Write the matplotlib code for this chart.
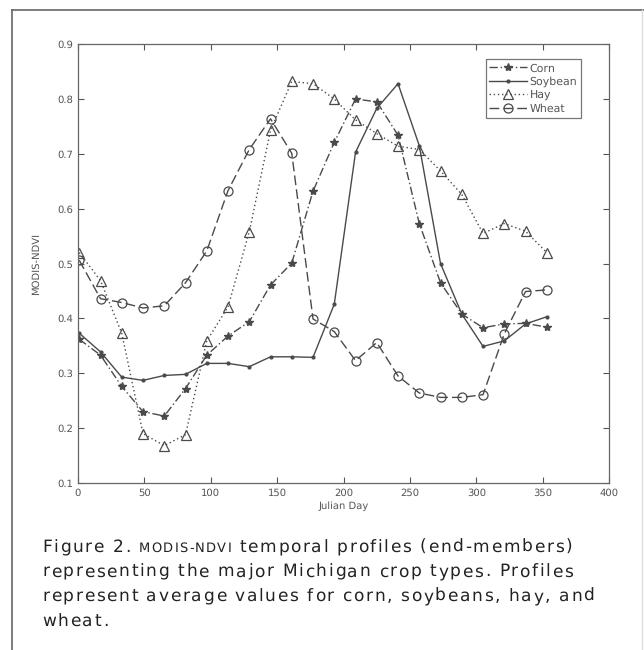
import matplotlib
matplotlib.use("Agg")
from matplotlib import pyplot as plt
from matplotlib.lines import Line2D
from matplotlib import font_manager
from matplotlib.font_manager import FontProperties
from matplotlib.ft2font import FT2Font, LoadFlags
import numpy as np

plt.rcParams["text.hinting"] = "no_hinting"
plt.rcParams["text.hinting_factor"] = 1

# 16-day MODIS composites
days = [1, 17, 33, 49, 65, 81, 97, 113, 129, 145, 161, 177,
        193, 209, 225, 241, 257, 273, 289, 305, 321, 337, 353]

corn = [0.362, 0.333, 0.276, 0.230, 0.222, 0.272, 0.333, 0.368, 0.394, 0.461, 0.501, 0.632,
        0.721, 0.800, 0.795, 0.734, 0.573, 0.465, 0.408, 0.383, 0.390, 0.391, 0.384]
soybean = [0.373, 0.339, 0.293, 0.287, 0.296, 0.298, 0.318, 0.318, 0.312, 0.330, 0.330, 0.329,
           0.426, 0.703, 0.783, 0.828, 0.715, 0.500, 0.408, 0.349, 0.359, 0.390, 0.403]
hay = [0.520, 0.469, 0.373, 0.190, 0.168, 0.188, 0.359, 0.421, 0.558, 0.743, 0.832, 0.828,
       0.800, 0.762, 0.737, 0.714, 0.708, 0.669, 0.626, 0.555, 0.573, 0.559, 0.520]
wheat = [0.506, 0.436, 0.429, 0.419, 0.423, 0.465, 0.523, 0.633, 0.708, 0.764, 0.701, 0.399,
         0.376, 0.323, 0.356, 0.295, 0.264, 0.256, 0.256, 0.261, 0.372, 0.449, 0.452]

xticks = [0, 50, 100, 150, 200, 250, 300, 350, 400]
yticks = [0.1, 0.2, 0.3, 0.4, 0.5, 0.6, 0.7, 0.8, 0.9]

W, H = 644, 650
lc = "#4a4a4a"
fig = plt.figure(figsize=(W / 100, H / 100), dpi=100)
fig.patch.set_facecolor("white")

ax = fig.add_axes([0.121, 0.257, 0.825, 0.675])

ax.plot(days, corn, linestyle=(0, (6, 2, 1, 2)), color=lc, lw=1.0,
        marker="*", ms=6, mfc=lc, mec=lc, label="Corn")
ax.plot(days, soybean, linestyle="-", color=lc, lw=1.0,
        marker=".", ms=4, mfc=lc, mec=lc, label="Soybean")
ax.plot(days, hay, linestyle=(0, (1, 2)), color=lc, lw=1.0,
        marker="^", ms=7, mfc="none", mec=lc, mew=0.9, label="Hay")
ax.plot(days, wheat, linestyle=(0, (7, 3)), color=lc, lw=1.0,
        marker="o", ms=6.5, mfc="none", mec=lc, mew=0.9, label="Wheat")

ax.set_xlim(0, 400)
ax.set_ylim(0.1, 0.9)
ax.set_xticks(xticks)
ax.set_yticks(yticks)
ax.set_xticklabels([str(t) for t in xticks])
ax.set_yticklabels(["%.1f" % t for t in yticks])
ax.tick_params(direction="in", top=True, right=True, length=4, width=0.8,
               colors="#555555", labelsize=7, labelcolor="#555555")
for s in ax.spines.values():
    s.set_color("#666666")
    s.set_linewidth(0.9)

ax.set_xlabel("Julian Day", fontsize=7, color="#555555", labelpad=3)
ax.set_ylabel("MODIS-NDVI", fontsize=7, color="#555555", labelpad=12)

leg = ax.legend(loc="upper right", bbox_to_anchor=(0.947, 0.966), fontsize=8,
                frameon=True, fancybox=False, handlelength=3.4, handletextpad=0.2,
                borderpad=0.35, labelspacing=0.25, borderaxespad=0)
leg.get_frame().set_edgecolor("#555555")
leg.get_frame().set_linewidth(0.9)
for t in leg.get_texts():
    t.set_color("#555555")

# outer frame of the figure panel
fig.add_artist(Line2D([12 / W, 12 / W], [0, 1 - 10 / H], color="#666666", lw=1.2))
fig.add_artist(Line2D([12 / W, 1], [1 - 10 / H, 1 - 10 / H], color="#666666", lw=1.2))
fig.add_artist(Line2D([642 / W, 642 / W], [0, 1 - 10 / H], color="#dddddd", lw=1.0))

# caption: wide, letter-spaced type, "MODIS-NDVI" in small caps
cap_color = "#222222"
font_path = font_manager.findfont(FontProperties(family="DejaVu Sans"))
ft = FT2Font(font_path)


def advance(ch, size):
    ft.set_size(size, 100)
    g = ft.load_char(ord(ch), flags=LoadFlags.NO_HINTING)
    return g.linearHoriAdvance / 65536.0


def tracked(x, y, s, size, track):
    for ch in s:
        if ch != " ":
            fig.text(x / W, 1 - y / H, ch, fontsize=size, family="DejaVu Sans",
                     color=cap_color, va="baseline")
        x += advance(ch, size) + track
    return x


size = 12.5
line2 = "representing the major Michigan crop types. Profiles"
nat = sum(advance(c, size) for c in line2)
track = (531 - nat) / (len(line2) - 1)

x = tracked(42, 552, "Figure 2. ", size, track)
x = tracked(x, 552, "MODIS-NDVI", 9.6, track * 0.7)
tracked(x, 552, " temporal profiles (end-members)", size, track)
tracked(42, 576.5, line2, size, track)
tracked(42, 601, "represent average values for corn, soybeans, hay, and", size, track)
tracked(42, 625.5, "wheat.", size, track)

fig.savefig("out.png", dpi=100, facecolor="white")
